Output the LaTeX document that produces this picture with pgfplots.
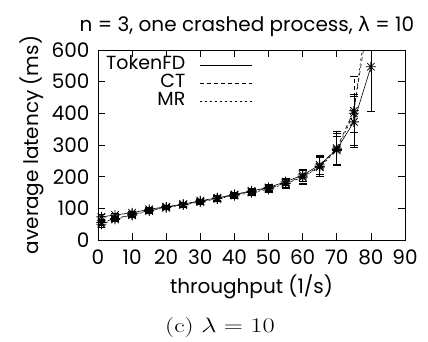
\documentclass[border=0pt]{standalone}
\usepackage{pgfplots}
\pgfplotsset{compat=1.18}
\usepackage{pgfplotstable}
\usepackage{fontspec}
\setmainfont{Poppins}
\newfontfamily\greekfont{DejaVu Sans}
\newfontfamily\capfont{Latin Modern Roman}
\newcommand\gfont{\fontsize{20}{22}\selectfont}
\pgfdeclareplotmark{gpstar}{%
  \pgfpathmoveto{\pgfqpoint{-\pgfplotmarksize}{0pt}}\pgfpathlineto{\pgfqpoint{\pgfplotmarksize}{0pt}}%
  \pgfpathmoveto{\pgfqpoint{0pt}{-\pgfplotmarksize}}\pgfpathlineto{\pgfqpoint{0pt}{\pgfplotmarksize}}%
  \pgfpathmoveto{\pgfqpoint{-0.75\pgfplotmarksize}{-0.75\pgfplotmarksize}}\pgfpathlineto{\pgfqpoint{0.75\pgfplotmarksize}{0.75\pgfplotmarksize}}%
  \pgfpathmoveto{\pgfqpoint{-0.75\pgfplotmarksize}{0.75\pgfplotmarksize}}\pgfpathlineto{\pgfqpoint{0.75\pgfplotmarksize}{-0.75\pgfplotmarksize}}%
  \pgfusepathqstroke}
\pgfplotstableread{
x y e
1 73 8
5 79 6
10 86 6
15 97 6
20 105 6
25 113 6
30 124 6
35 133 7
40 144 7
45 155 8
50 166 9
55 184 12
60 205 20
65 237 30
70 286 50
75 373 80
80 547 140
}\tokenfd
\pgfplotstableread{
x y e
1 55 8
5 68 6
10 80 6
15 93 6
20 103 6
25 112 6
30 122 6
35 132 7
40 142 8
45 153 8
50 163 9
55 180 14
60 200 22
65 232 32
70 290 55
75 408 110
80 750 150
}\ctdata
\pgfplotstableread{
x y e
1 50 8
5 65 6
10 78 6
15 92 6
20 102 6
25 111 6
30 120 6
35 130 7
40 140 8
45 150 8
50 160 9
55 178 14
60 198 22
65 230 30
70 283 45
75 400 60
80 820 150
}\mrdata
\begin{document}
\begin{tikzpicture}
\begin{axis}[
  at={(0,0)}, anchor=south west,
  scale only axis, width=307pt, height=190pt,
  xmin=0, xmax=90, ymin=0, ymax=600,
  xtick={0,10,...,90}, ytick={0,100,...,600},
  tick align=inside, major tick length=7pt,
  tick style={black, line width=0.6pt},
  axis line style={line width=0.7pt},
  /pgf/number format/assume math mode=true,
  ticklabel style={font=\gfont},
  xticklabel style={yshift=-6pt},
  yticklabel style={xshift=-5pt},
  xlabel={throughput (1/s)}, ylabel={average latency (ms)},
  label style={font=\gfont},
  title={n = 3, one crashed process, {\greekfont\symbol{"03BB}} = 10},
  title style={font=\gfont, at={(axis description cs:0.485,1.09)}, anchor=center},
  xlabel style={at={(axis description cs:0.5,-0.245)}, anchor=center},
  ylabel style={at={(axis description cs:-0.215,0.5)}, anchor=center},
  legend style={draw=none, fill=none, at={(0.502,0.96)}, anchor=north east,
    font=\fontsize{19}{21}\selectfont, legend cell align=right, row sep=3pt, inner sep=0pt,
    nodes={text height=11pt, text depth=2pt, inner sep=1pt}},
  legend plot pos=right,
  legend image code/.code={\path (0pt,0pt); \draw[#1, mark=none] (13pt,0pt) -- (65pt,0pt);},
  error bars/error bar style={line width=0.6pt},
]
\addplot[black, line width=0.6pt, solid, mark=gpstar, mark size=5pt, mark options={solid, line width=0.8pt},
  error bars/.cd, y dir=both, y explicit, error mark options={rotate=90, mark size=4pt, black, solid}] table[x=x, y=y, y error=e] {\tokenfd};
\addlegendentry{TokenFD}
\addplot[black, line width=0.6pt, dash pattern=on 4pt off 3pt, mark=gpstar, mark size=5pt, mark options={solid, line width=0.8pt},
  error bars/.cd, y dir=both, y explicit, error bar style={dash pattern=on 4pt off 3pt}, error mark options={rotate=90, mark size=4pt, black, solid}] table[x=x, y=y, y error=e] {\ctdata};
\addlegendentry{CT}
\addplot[black, line width=0.6pt, dash pattern=on 2pt off 3pt, mark=gpstar, mark size=5pt, mark options={solid, line width=0.8pt},
  error bars/.cd, y dir=both, y explicit, error bar style={dash pattern=on 5pt off 2pt on 1pt off 2pt}, error mark options={rotate=90, mark size=4pt, black, solid}] table[x=x, y=y, y error=e] {\mrdata};
\addlegendentry{MR}
\end{axis}
\node[font=\capfont\fontsize{20}{22}\selectfont, xscale=1.28] at (122pt,-88pt) {(c) $\lambda = 10$};
\path[use as bounding box] (-98pt,-98pt) rectangle (330pt,240pt);
\end{tikzpicture}
\end{document}
